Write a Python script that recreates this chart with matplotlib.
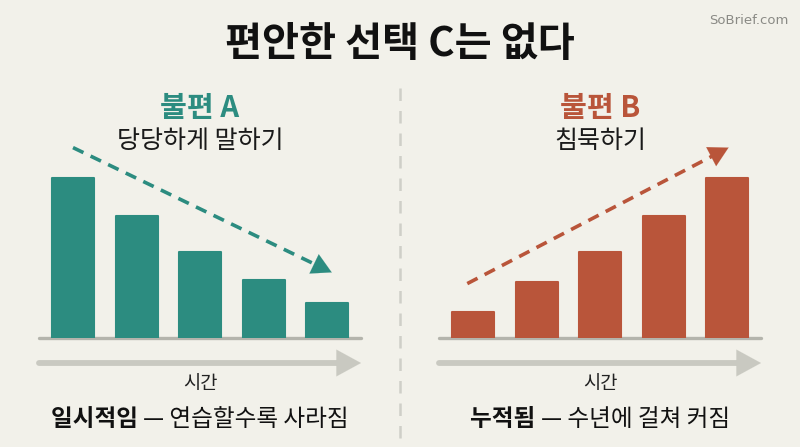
import numpy as np
import matplotlib.pyplot as plt

plt.rcParams['font.family'] = ['Noto Sans CJK KR', 'DejaVu Sans']

# Datos
periodos = np.arange(5)
incomodidad_a = [100, 76, 54, 36, 22]   # hablar con firmeza: baja con el tiempo
incomodidad_b = [16, 35, 54, 76, 100]   # callar: se acumula
tendencia_a = [(0.0, 119), (4.07, 41)]
tendencia_b = [(-0.09, 34), (4.02, 119)]

bg = '#F2F1EA'
teal = '#2C8C80'
rojo = '#B9553A'
gris = '#B4B4AC'
gris_claro = '#C9C9C1'

fig = plt.figure(figsize=(8, 4.47), dpi=100)
fig.patch.set_facecolor(bg)

W, H = 800, 447


def panel(x0, valores, tendencia, color, titulo, subtitulo, negrita, resto):
    ax = fig.add_axes([x0 / W, (H - 338) / H, 322 / W, 208 / H])
    ax.set_facecolor('none')
    ax.set_xlim(-0.535, 4.53)
    ax.set_ylim(0, 130)
    ax.axis('off')
    ax.bar(periodos, valores, width=0.66, color=color, edgecolor=color,
           linewidth=1.5, joinstyle='round', zorder=2)
    # línea base
    ax.plot([0, 1], [0, 0], transform=ax.transAxes, color=gris, lw=2.4,
            clip_on=False, solid_capstyle='round', zorder=1)
    # tendencia discontinua
    (xs, ys), (xe, ye) = tendencia
    f = 0.95
    xm, ym = xs + (xe - xs) * f, ys + (ye - ys) * f
    ax.plot([xs, xm], [ys, ym], color=color, lw=2.6, dashes=(3.2, 2.2),
            clip_on=False)
    ax.annotate('', xy=(xe, ye), xytext=(xm, ym),
                arrowprops=dict(arrowstyle='-|>,head_length=1.0,head_width=0.55',
                                color=color, lw=0.1, mutation_scale=14,
                                shrinkA=0, shrinkB=0), annotation_clip=False)
    # flecha del tiempo
    yt = -25 / 208
    ax.plot([0, 0.95], [yt, yt], transform=ax.transAxes, color=gris_claro,
            lw=4.2, solid_capstyle='round', clip_on=False)
    ax.annotate('', xy=(1.0, yt), xytext=(0.9, yt),
                xycoords='axes fraction', textcoords='axes fraction',
                arrowprops=dict(arrowstyle='-|>,head_length=1.1,head_width=0.6',
                                color=gris_claro, lw=0.1, mutation_scale=16,
                                shrinkA=0, shrinkB=0),
                annotation_clip=False)
    cx = (x0 + 161) / W
    fig.text(cx, 1 - 383 / H, '시간', ha='center', va='center', fontsize=13.5,
             color='#222222')
    fig.text(cx, 1 - 108 / H, titulo, ha='center', va='center', fontsize=21,
             fontweight='bold', color=color)
    fig.text(cx, 1 - 141 / H, subtitulo, ha='center', va='center', fontsize=18,
             color='#1A1A1A')
    t = fig.text(0, 1 - 419 / H, negrita + ' ', ha='left', va='center',
                 fontsize=17, fontweight='bold', color='#111111')
    t2 = fig.text(0, 1 - 419 / H, '— ' + resto, ha='left', va='center',
                  fontsize=17, color='#111111')
    return ax, t, t2, cx


res = [
    panel(39, incomodidad_a, tendencia_a, teal, '불편 A', '당당하게 말하기',
          '일시적임', '연습할수록 사라짐'),
    panel(439, incomodidad_b, tendencia_b, rojo, '불편 B', '침묵하기',
          '누적됨', '수년에 걸쳐 커짐'),
]

# centrar las frases inferiores (parte en negrita + resto)
fig.canvas.draw()
r = fig.canvas.get_renderer()
for ax, t, t2, cx in res:
    w1 = t.get_window_extent(r).width / W
    w2 = t2.get_window_extent(r).width / W
    x = cx - (w1 + w2) / 2
    t.set_x(x)
    t2.set_x(x + w1)

# divisor vertical
fig.add_artist(plt.Line2D([0.5, 0.5], [1 - 88 / H, 1 - 442 / H], color='#CFCFC8',
                          lw=1.8, dashes=(5, 4)))

fig.text(0.5, 1 - 45 / H, '편안한 선택 C는 없다', ha='center', va='center',
         fontsize=29, fontweight='bold', color='#111111')
fig.text(788 / W, 1 - 20 / H, 'SoBrief.com', ha='right', va='center',
         fontsize=9.5, color='#8A8A85', family='Liberation Sans Narrow')

fig.savefig('out.png', dpi=100, facecolor=bg)
